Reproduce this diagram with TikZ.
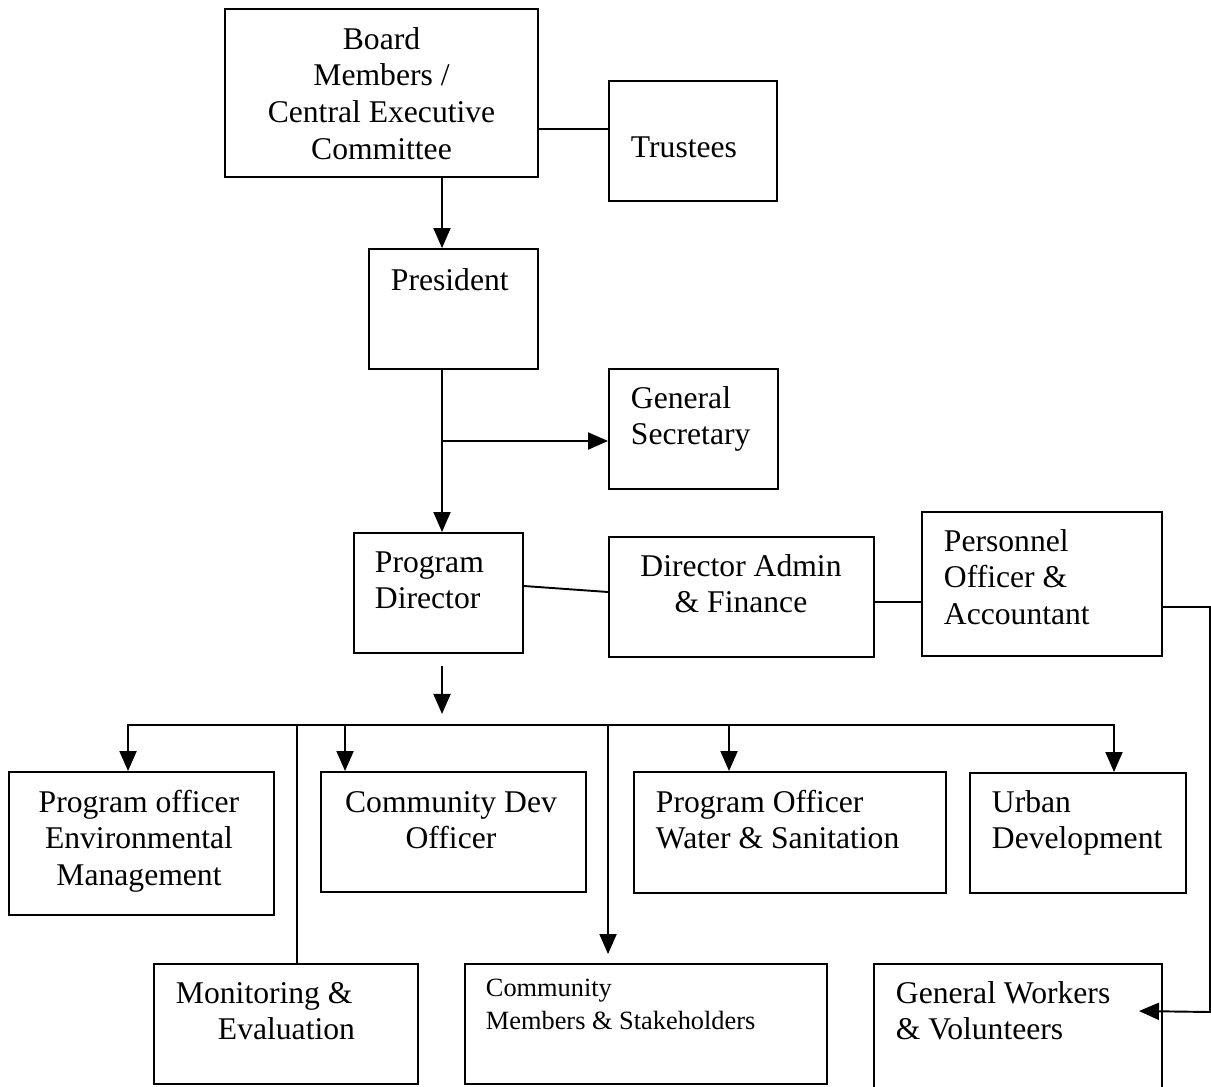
\documentclass[tikz,border=0pt]{standalone}
\usepackage{fontspec}
\setmainfont{Liberation Serif}
\usepackage{tikz}
\usetikzlibrary{arrows.meta,calc,fit}

\newcommand{\rows}[2]{\begin{tabular}[t]{@{}#1@{}}#2\end{tabular}}

\begin{document}
\begin{tikzpicture}[x=0.02cm,y=-0.02cm,line width=1.1pt,
    >={Triangle[length=0.4cm,width=0.34cm]},
    box/.style={draw,inner sep=0pt},
    txt/.style={inner sep=0pt,font=\fontsize{18}{21}\selectfont},
    small/.style={inner sep=0pt,font=\fontsize{15}{19.3}\selectfont}]
          \fill[white] (0,0) rectangle (1211,1086);
          \useasboundingbox (0,0) rectangle (1211,1086);
          \coordinate (spine) at (442,0);
          \coordinate (rail) at (1210,1012);
          \coordinate (busR) at (1114,725);
          % boxes
          \node[box,fit={(225,9) (538,177)}] (board) {};
          \node[box,fit={(609,81) (777,201)}] (trustees) {};
          \node[box,fit={(369,249) (538,369)}] (pres) {};
          \node[box,fit={(609,369) (778,489)}] (gensec) {};
          \node[box,fit={(354,533) (523,653)}] (progdir) {};
          \node[box,fit={(609,537) (874,657)}] (diradmin) {};
          \node[box,fit={(922,512) (1162,656)}] (personnel) {};
          \node[box,fit={(9,772) (274,915)}] (env) {};
          \node[box,fit={(321,772) (586,892)}] (cdo) {};
          \node[box,fit={(634,772) (946,893)}] (water) {};
          \node[box,fit={(970,773) (1186,893)}] (urban) {};
          \node[box,fit={(154,964) (418,1084)}] (monitor) {};
          \node[box,fit={(465,964) (827,1084)}] (members) {};
          \node[box,fit={(874,964) (1162,1110)}] (workers) {};
          % texts
          \node[txt,anchor=base] (boardT) at (381.5,49) {\rows{c}{Board\\Members /\\Central Executive\\Committee}};
          \node[txt,anchor=base west] (trusteesT) at (630,157) {Trustees};
          \node[txt,anchor=base west] (presT) at (390,290) {President};
          \node[txt,anchor=base west] (gensecT) at (630,408) {\rows{l}{General\\Secretary}};
          \node[txt,anchor=base west] (progdirT) at (374,572) {\rows{l}{Program\\Director}};
          \node[txt,anchor=base] (diradminT) at (741,576) {\rows{c}{Director Admin\\\& Finance}};
          \node[txt,anchor=base west] (personnelT) at (943,551) {\rows{l}{Personnel\\Officer \&\\Accountant}};
          \node[txt,anchor=base] (envT) at (139,812) {\rows{c}{Program officer\\Environmental\\Management}};
          \node[txt,anchor=base] (cdoT) at (451,812) {\rows{c}{Community Dev\\Officer}};
          \node[txt,anchor=base west] (waterT) at (655,812) {\rows{l}{Program Officer\\Water \& Sanitation}};
          \node[txt,anchor=base west] (urbanT) at (991,812) {\rows{l}{Urban\\Development}};
          \node[txt,anchor=base west] (monitorT) at (175,1003) {\rows{l}{Monitoring \&\\\hspace{0.84cm}Evaluation}};
          \node[small,anchor=base west] (membersT) at (485,996) {\rows{l}{Community\\Members \& Stakeholders}};
          \node[txt,anchor=base west] (workersT) at (895,1003) {\rows{l}{General Workers\\\& Volunteers}};
          % connectors
          \draw[->] (board.south -| spine) -- (pres.north -| spine);
          \draw ($(board.east)+(0,36)$) -- ($(trustees.west)+(0,-12)$);
          \draw[->] (pres.south -| spine) -- (progdir.north -| spine);
          \draw[->] (gensec.west) ++(-167,12) -- ++(167,0);
          \draw ($(progdir.east)+(0,-7)$) -- ($(diradmin.west)+(0,-5)$);
          \draw ($(diradmin.east)+(0,5)$) -- ($(personnel.west)+(0,18)$);
          \draw[->] ($(personnel.east)+(0,23)$) -| (rail) -- ($(workers.north east)+(-24,48)$);
          \draw[->] (progdir.south -| spine) ++(0,12) -- ++(0,48);
          \draw[<->] (env.north west) ++(120,0) |- (busR) -- (urban.north -| busR);
          \draw[->] (cdo.north west) ++(25,-47) -- ++(0,47);
          \draw[->] (water.north west) ++(96,-47) -- ++(0,47);
          \draw (monitor.north west) ++(144,0) -- ++(0,-239);
          \draw[->] (members.north west) ++(144,-239) -- ++(0,230);
        \end{tikzpicture}
\end{document}
